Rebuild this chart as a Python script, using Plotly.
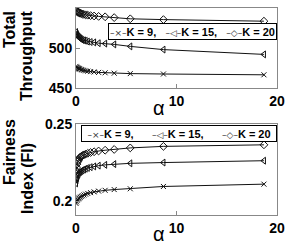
import plotly.graph_objects as go

alpha = [0.0, 0.05, 0.1, 0.17, 0.24, 0.32, 0.41, 0.52, 0.64, 0.79, 0.96, 1.17,
         1.45, 1.8, 2.25, 2.9, 3.8, 5.4, 8.7, 18.7]

thr_k9 = [477, 476, 475.5, 475, 474.5, 474, 473.5, 473, 472.5, 472, 471.5, 471,
          470.5, 470, 469.5, 469, 468.5, 468, 467.5, 466.5]
thr_k15 = [520, 518, 516.5, 515, 514, 513, 512, 511, 510, 509.5, 509, 508,
           507.5, 507, 506, 505.5, 504.5, 502, 498, 492]
thr_k20 = [548, 546.5, 545.5, 545, 544.5, 544, 543.5, 543, 542.5, 542, 541.5, 541,
           540.5, 540, 539.5, 539, 538, 536.5, 535.5, 533.5]

fi_k9 = [0.1985, 0.1995, 0.2005, 0.201, 0.2015, 0.202, 0.2025, 0.203, 0.2035, 0.204,
         0.2045, 0.205, 0.2055, 0.206, 0.2065, 0.207, 0.2075, 0.208, 0.2095, 0.211]
fi_k15 = [0.2115, 0.2135, 0.215, 0.2165, 0.2175, 0.2185, 0.219, 0.2195, 0.22, 0.2205,
          0.221, 0.2215, 0.222, 0.2225, 0.223, 0.2235, 0.224, 0.2245, 0.225, 0.2262]
fi_k20 = [0.2195, 0.222, 0.224, 0.2255, 0.2265, 0.2275, 0.2285, 0.229, 0.2295, 0.23,
          0.2305, 0.231, 0.2315, 0.232, 0.2325, 0.233, 0.2335, 0.2345, 0.2355, 0.2365]

names = ["K = 9,", "K = 15,", "K = 20"]
legend_glyphs = ["×", "◁", "◇"]
x_ticks = [0, 10, 20]
thr_ticks = [450, 500, 550]
fi_ticks = [0.2, 0.25]
fi_ticktext = ["0.2", "0.25"]

FONT = "Liberation Sans, Arial, Helvetica, sans-serif"
W, H = 300, 245

symbols = [dict(symbol="x-thin", size=5, line=dict(width=1, color="#111")),
           dict(symbol="triangle-left-open", size=6, color="#111", line=dict(width=1)),
           dict(symbol="diamond-open", size=6, color="#111", line=dict(width=1))]

fig = go.Figure()
for i, ys in enumerate([thr_k9, thr_k15, thr_k20]):
    fig.add_trace(go.Scatter(x=alpha, y=ys, mode="lines+markers", name=names[i],
                             line=dict(color="#111", width=1), marker=symbols[i],
                             xaxis="x", yaxis="y", showlegend=False))
for i, ys in enumerate([fi_k9, fi_k15, fi_k20]):
    fig.add_trace(go.Scatter(x=alpha, y=ys, mode="lines+markers", name=names[i],
                             line=dict(color="#111", width=1), marker=symbols[i],
                             xaxis="x2", yaxis="y2", showlegend=False))

axis_common = dict(showline=True, mirror=True, linecolor="#888", linewidth=1,
                   ticks="inside", ticklen=4, tickcolor="#888", showgrid=False,
                   zeroline=False, automargin=False,
                   tickfont=dict(family=FONT, size=14, color="black", weight="bold"))

px = lambda v: v / W
py = lambda v: 1 - v / H

fig.update_layout(
    width=W, height=H, margin=dict(l=0, r=0, t=0, b=0, autoexpand=False),
    paper_bgcolor="white", plot_bgcolor="white", showlegend=False,
    xaxis=dict(domain=[px(76), px(277)], range=[0, 20], tickvals=x_ticks,
               anchor="y", **axis_common),
    yaxis=dict(domain=[py(88), py(8)], range=[450, 550], tickvals=thr_ticks,
               anchor="x", **axis_common),
    xaxis2=dict(domain=[px(76), px(277)], range=[0, 20], tickvals=x_ticks,
                anchor="y2", **axis_common),
    yaxis2=dict(domain=[py(215), py(124)], range=[0.191, 0.25], tickvals=fi_ticks,
                ticktext=fi_ticktext, anchor="x2", **axis_common),
)

# legends (one per panel), drawn as bordered text boxes
NB = "\u00a0"
def legend_text(gap):
    parts = []
    for g, n in zip(legend_glyphs, names):
        sym = ("<span style='font-family:DejaVu Sans;font-size:9px;font-weight:normal;"
               "color:#333'>" + "–" + g + "–</span>")
        parts.append(sym + n)
    return (NB * gap).join(parts)

for (x0, x1, ytop, gap) in [(108, 277, 23, 3), (81, 277, 125, 6)]:
    fig.add_annotation(text=legend_text(gap), x=px(x0), y=py(ytop), xref="paper",
                       yref="paper", xanchor="left", yanchor="top", showarrow=False,
                       width=x1 - x0 - 4, height=13, align="center",
                       bordercolor="black", borderwidth=1, borderpad=1, bgcolor="white",
                       font=dict(family=FONT, size=11, color="black", weight="bold"))

ann_font = dict(family=FONT, size=16, color="black", weight="bold")
for text, x, y in [("Total", 9, 30), ("Throughput", 27, 56),
                   ("Fairness", 9, 152), ("Index (FI)", 27, 179)]:
    fig.add_annotation(text=text, x=px(x), y=py(y), xref="paper", yref="paper",
                       showarrow=False, textangle=-90, font=ann_font,
                       xanchor="center", yanchor="middle")
for y in [108, 234]:
    fig.add_annotation(text="α", x=px(159), y=py(y), xref="paper", yref="paper",
                       showarrow=False, font=dict(family=FONT, size=20, color="black"),
                       xanchor="center", yanchor="middle")

fig.write_html("out.html", config={"displayModeBar": False},
               post_script="document.body.style.margin='0';"
                           "document.body.style.overflow='hidden';")
